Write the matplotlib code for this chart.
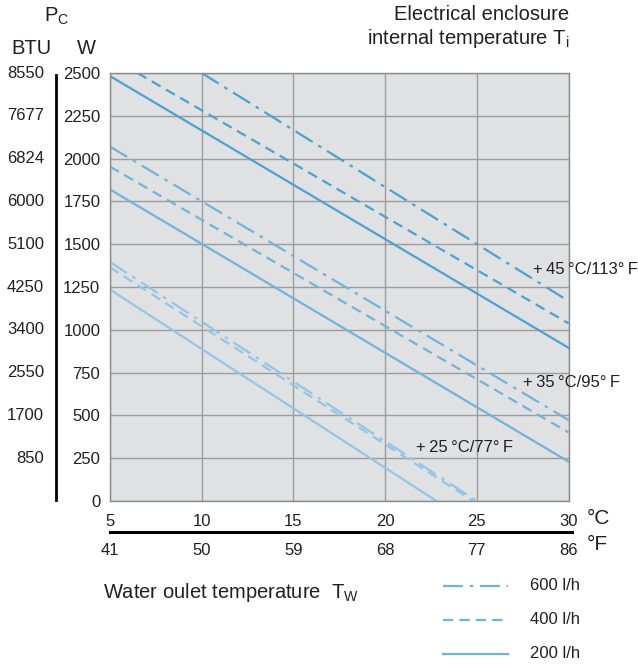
import matplotlib.pyplot as plt
from matplotlib.lines import Line2D

plt.rcParams['font.family'] = ['Liberation Sans', 'DejaVu Sans']

# water outlet temperature ticks
temp_c = [5, 10, 15, 20, 25, 30]
temp_f = ['41', '50', '59', '68', '77', '86']
# cooling power ticks
power_w = [0, 250, 500, 750, 1000, 1250, 1500, 1750, 2000, 2250, 2500]
power_btu = ['', '850', '1700', '2550', '3400', '4250', '5100', '6000', '6824', '7677', '8550']

# curves: (x start, x end), (W start, W end)
t45_200_x, t45_200_y = [5, 30], [2482, 895]
t45_400_x, t45_400_y = [6.5, 30], [2500, 1038]
t45_600_x, t45_600_y = [10, 30], [2500, 1168]
t35_200_x, t35_200_y = [5, 30], [1820, 230]
t35_400_x, t35_400_y = [5, 30], [1953, 401]
t35_600_x, t35_600_y = [5, 30], [2070, 473]
t25_200_x, t25_200_y = [5, 22.8], [1235, 0]
t25_400_x, t25_400_y = [5, 24.8], [1365, 0]
t25_600_x, t25_600_y = [5, 25.0], [1396, 0]

c45 = '#4ba2d0'
c35 = '#70b3dc'
c25 = '#92c5e6'
dash = (0, (4.6, 2.8))
dashdot = (0, (9, 3, 1.6, 3))
ts = '\u2009'  # thin space, as in the printed labels

W, H = 638, 667
fig = plt.figure(figsize=(W / 100, H / 100), dpi=100)
ax = fig.add_axes([110 / W, 1 - 501 / H, 458.5 / W, 428 / H])
ax.set_facecolor('#e0e1e3')

lw = 1.6
ax.plot(t45_200_x, t45_200_y, color=c45, lw=lw)
ax.plot(t45_400_x, t45_400_y, color=c45, lw=lw, linestyle=dash)
ax.plot(t45_600_x, t45_600_y, color=c45, lw=lw, linestyle=dashdot)
ax.plot(t35_200_x, t35_200_y, color=c35, lw=lw)
ax.plot(t35_400_x, t35_400_y, color=c35, lw=lw, linestyle=dash)
ax.plot(t35_600_x, t35_600_y, color=c35, lw=lw, linestyle=dashdot)
ax.plot(t25_200_x, t25_200_y, color=c25, lw=lw)
ax.plot(t25_400_x, t25_400_y, color=c25, lw=lw, linestyle=dash)
ax.plot(t25_600_x, t25_600_y, color=c25, lw=lw, linestyle=dashdot)

ax.set_xlim(5, 30)
ax.set_ylim(0, 2500)
ax.set_xticks(temp_c)
ax.set_yticks(power_w)
ax.grid(True, color='#9c9c9c', lw=1.0)
ax.set_axisbelow(True)
for s in ax.spines.values():
    s.set_color('#8a8a8a')
    s.set_linewidth(1.0)
ax.tick_params(length=0, labelsize=12, colors='#231f20', pad=7)
ax.tick_params(axis='x', pad=9)

# second row of x labels in °F
for xc, lab in zip(temp_c, temp_f):
    ax.text(xc, -0.115, lab, transform=ax.get_xaxis_transform(), ha='center', va='center',
            fontsize=12, color='#231f20')
# BTU labels
for yw, lab in zip(power_w, power_btu):
    ax.text(-0.144, yw, lab, transform=ax.get_yaxis_transform(), ha='right', va='center',
            fontsize=12, color='#231f20')

def px(x, y):
    return x / W, 1 - y / H

tc = '#231f20'
fig.add_artist(Line2D([56 / W, 56 / W], [1 - 75 / H, 1 - 500 / H], color='black', lw=2))
fig.add_artist(Line2D([110 / W, 572 / W], [1 - 532 / H, 1 - 532 / H], color='black', lw=2.2))

fig.text(*px(57, 16), r'P$_\mathregular{C}$', ha='center', va='center', fontsize=14.5, color=tc)
fig.text(*px(31, 48), 'BTU', ha='center', va='center', fontsize=14.5, color=tc)
fig.text(*px(86, 48), 'W', ha='center', va='center', fontsize=14.5, color=tc)
fig.text(*px(569, 14), 'Electrical enclosure', ha='right', va='center', fontsize=14.5, color=tc)
fig.text(*px(569, 39), r'internal temperature T$_\mathregular{i}$', ha='right', va='center',
         fontsize=14.5, color=tc)
fig.text(*px(587, 519), '°C', ha='left', va='center', fontsize=15, color=tc)
fig.text(*px(587, 545), '°F', ha='left', va='center', fontsize=15, color=tc)
fig.text(*px(103, 593), r'Water oulet temperature  T$_\mathregular{W}$', ha='left', va='center',
         fontsize=14.5, color=tc)

ax.text(28.07, 1350, f'+{ts}45{ts}°C/113°{ts}F', ha='left', va='center', fontsize=12, color=tc)
ax.text(27.52, 695, f'+{ts}35{ts}°C/95°{ts}F', ha='left', va='center', fontsize=12, color=tc)
ax.text(21.7, 310, f'+{ts}25{ts}°C/77°{ts}F', ha='left', va='center', fontsize=12, color=tc)

# legend
legend_items = [('600 l/h', dashdot, 586), ('400 l/h', dash, 620), ('200 l/h', '-', 654)]
for lab, ls, yy in legend_items:
    fig.add_artist(Line2D([443 / W, 508 / W], [1 - yy / H, 1 - yy / H], color=c35, lw=lw,
                          linestyle=ls))
    fig.text(*px(530, yy), lab, ha='left', va='center', fontsize=12, color=tc)

fig.savefig('out.png', dpi=100)
